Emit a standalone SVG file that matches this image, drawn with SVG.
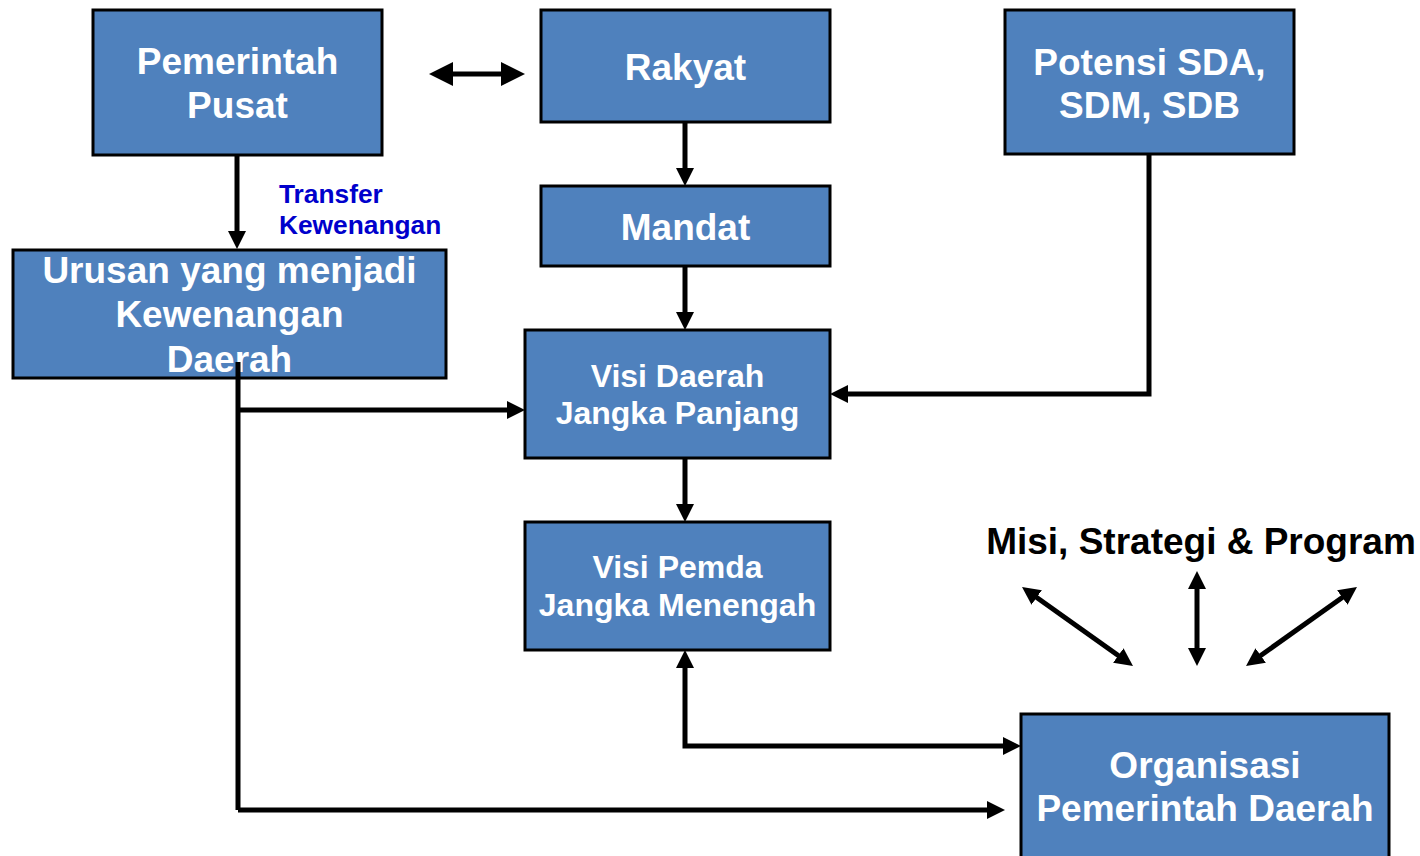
<svg xmlns="http://www.w3.org/2000/svg" width="1420" height="856" viewBox="0 0 1420 856">
<style>
.box{fill:#4F81BD;stroke:#000;stroke-width:3}
.t{font-family:"Liberation Sans",Arial,sans-serif;font-weight:bold;fill:#fff;text-anchor:middle}
.big{font-size:37px}
.mid{font-size:32px}
.lbl{font-family:"Liberation Sans",Arial,sans-serif;font-weight:bold;font-size:26.3px;fill:#0000CC}
.misi{font-family:"Liberation Sans",Arial,sans-serif;font-weight:bold;font-size:37px;fill:#000;text-anchor:middle}
.c{fill:none;stroke:#000;stroke-width:5}
.e{marker-end:url(#ah)}
.d{marker-start:url(#ah);marker-end:url(#ah)}
</style>
<defs>
<marker id="ah" markerUnits="userSpaceOnUse" markerWidth="18" markerHeight="18" viewBox="0 0 18 18" refX="6" refY="9" orient="auto-start-reverse">
<path d="M0,0 L18,9 L0,18 z" fill="#000"/>
</marker>
<marker id="ahb" markerUnits="userSpaceOnUse" markerWidth="24" markerHeight="24" viewBox="0 0 24 24" refX="8" refY="12" orient="auto-start-reverse">
<path d="M0,0 L24,12 L0,24 z" fill="#000"/>
</marker>
</defs>
<rect width="1420" height="856" fill="#fff"/>
<g id="pemerintah-pusat">
<rect class="box" x="93" y="10" width="289" height="145"/>
<text class="t big" x="237.5" y="74">Pemerintah</text>
<text class="t big" x="237.5" y="118">Pusat</text>
</g>
<g id="rakyat">
<rect class="box" x="541" y="10" width="289" height="112"/>
<text class="t big" x="685.5" y="80">Rakyat</text>
</g>
<g id="potensi">
<rect class="box" x="1005" y="10" width="289" height="144"/>
<text class="t big" x="1149.5" y="75">Potensi SDA,</text>
<text class="t big" x="1149.5" y="118">SDM, SDB</text>
</g>
<g id="mandat">
<rect class="box" x="541" y="186" width="289" height="80"/>
<text class="t big" x="685.5" y="240">Mandat</text>
</g>
<g id="urusan">
<rect class="box" x="13" y="250" width="433" height="128"/>
<text class="t big" x="229.5" y="283">Urusan yang menjadi</text>
<text class="t big" x="229.5" y="327">Kewenangan</text>
<text class="t big" x="229.5" y="372">Daerah</text>
</g>
<g id="visi-daerah">
<rect class="box" x="525" y="330" width="305" height="128"/>
<text class="t mid" x="677.5" y="387">Visi Daerah</text>
<text class="t mid" x="677.5" y="424">Jangka Panjang</text>
</g>
<g id="visi-pemda">
<rect class="box" x="525" y="522" width="305" height="128"/>
<text class="t mid" x="677.5" y="578">Visi Pemda</text>
<text class="t mid" x="677.5" y="616">Jangka Menengah</text>
</g>
<g id="organisasi">
<rect class="box" x="1021" y="714" width="368" height="160"/>
<text class="t big" x="1205" y="778">Organisasi</text>
<text class="t big" x="1205" y="821">Pemerintah Daerah</text>
</g>
<g id="misi">
<text class="misi" x="1201" y="554">Misi, Strategi &amp; Program</text>
</g>
<g id="label-transfer">
<text class="lbl" x="279" y="203">Transfer</text>
<text class="lbl" x="279" y="234">Kewenangan</text>
</g>
<g id="connectors">
<path class="c" d="M445,74 L509,74" style="marker-start:url(#ahb);marker-end:url(#ahb)"/>
<path class="c e" d="M237,155 L237,237"/>
<path class="c e" d="M685,122 L685,174"/>
<path class="c e" d="M685,266 L685,318"/>
<path class="c e" d="M685,458 L685,510"/>
<path class="c e" d="M1149,154 L1149,394 L842,394"/>
<path class="c" d="M238,362 L238,810"/>
<path class="c e" d="M238,410 L513,410"/>
<path class="c e" d="M238,810 L993,810"/>
<path class="c d" d="M1009,746 L685,746 L685,662"/>
<path class="c d" d="M1031.8,594 L1123.2,659"/>
<path class="c d" d="M1197,583 L1197,654"/>
<path class="c d" d="M1347.2,594 L1255.8,659"/>
</g>
</svg>
